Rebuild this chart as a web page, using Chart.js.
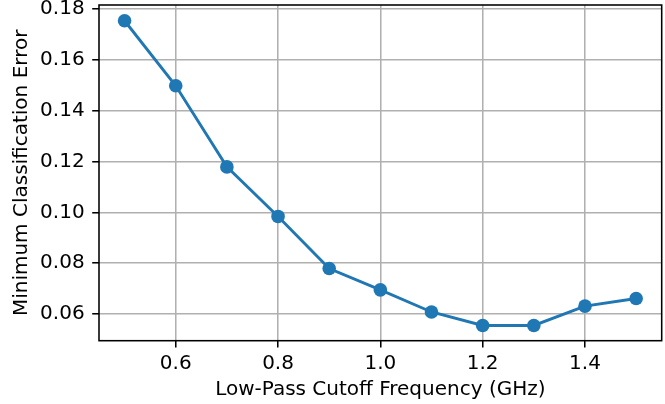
<!DOCTYPE html>
<html>
<head>
<meta charset="utf-8">
<script src="https://cdn.jsdelivr.net/npm/chart.js@4.4.1/dist/chart.umd.min.js"></script>
<style>
  html, body { margin: 0; padding: 0; background: #fff; }
  canvas { display: block; }
</style>
</head>
<body>
<canvas id="errorChart" width="665" height="404"></canvas>
<script>
// cutoff frequency (GHz) and min classification error
const cutoffs = [0.5, 0.6, 0.7, 0.8, 0.9, 1.0, 1.1, 1.2, 1.3, 1.4, 1.5];
const minErrors = [0.1754, 0.1498, 0.1179, 0.0984, 0.0779, 0.0695, 0.0608, 0.0555, 0.0555, 0.0631, 0.0661];

const xTicks = [0.6, 0.8, 1.0, 1.2, 1.4];
const yTicks = [0.06, 0.08, 0.10, 0.12, 0.14, 0.16, 0.18];

const FONT = 'DejaVu Sans';
const FS = 20;

// matplotlib style box around the axes
const frame = {
    id: 'frame',
    afterDatasetsDraw(chart) {
        const { ctx, chartArea: a } = chart;
        ctx.save();
        ctx.strokeStyle = '#000';
        ctx.lineWidth = 1.55;
        ctx.strokeRect(a.left, a.top, a.right - a.left, a.bottom - a.top);
        ctx.restore();
    }
};

const canvas = document.getElementById('errorChart');

new Chart(canvas, {
    type: 'line',
    data: {
        datasets: [{
            data: cutoffs.map((x, i) => ({ x, y: minErrors[i] })),
            borderColor: '#1f77b4',
            backgroundColor: '#1f77b4',
            borderWidth: 2.9,
            pointRadius: 6.8,
            pointBorderWidth: 0,
            pointBackgroundColor: '#1f77b4',
            tension: 0,
            fill: false
        }]
    },
    options: {
        responsive: false,
        devicePixelRatio: 1,
        animation: false,
        layout: { autoPadding: false, padding: { left: 0, top: 5, right: 3.3, bottom: 0 } },
        plugins: {
            legend: { display: false },
            tooltip: { enabled: false }
        },
        scales: {
            x: {
                type: 'linear',
                min: 0.45,
                max: 1.55,
                afterBuildTicks: s => { s.ticks = xTicks.map(v => ({ value: v })); },
                afterFit: s => { s.height = 63.3; s.paddingLeft = 0; s.paddingRight = 0; },
                grid: {
                    color: '#b0b0b0',
                    lineWidth: 1.55,
                    drawTicks: true,
                    tickLength: 6.8,
                    tickColor: '#000',
                    tickWidth: 1.55
                },
                border: { display: false },
                ticks: {
                    color: '#000',
                    padding: 4.3,
                    maxRotation: 0,
                    font: { family: FONT, size: FS },
                    callback: v => v.toFixed(1)
                },
                title: {
                    display: true,
                    text: 'Low-Pass Cutoff Frequency (GHz)',
                    color: '#000',
                    font: { family: FONT, size: FS },
                    padding: { top: 0, bottom: 2.7 }
                }
            },
            y: {
                type: 'linear',
                min: 0.0495,
                max: 0.1816,
                afterBuildTicks: s => { s.ticks = yTicks.map(v => ({ value: v })); },
                afterFit: s => { s.width = 99; s.paddingTop = 0; s.paddingBottom = 0; },
                grid: {
                    color: '#b0b0b0',
                    lineWidth: 1.55,
                    drawTicks: true,
                    tickLength: 6.8,
                    tickColor: '#000',
                    tickWidth: 1.55
                },
                border: { display: false },
                ticks: {
                    color: '#000',
                    padding: 7.6,
                    font: { family: FONT, size: FS },
                    callback: v => v.toFixed(2)
                },
                title: {
                    display: true,
                    text: 'Minimum Classification Error',
                    color: '#000',
                    font: { family: FONT, size: FS },
                    padding: { top: 9.4, bottom: 0 }
                }
            }
        }
    },
    plugins: [frame]
});
</script>
</body>
</html>
